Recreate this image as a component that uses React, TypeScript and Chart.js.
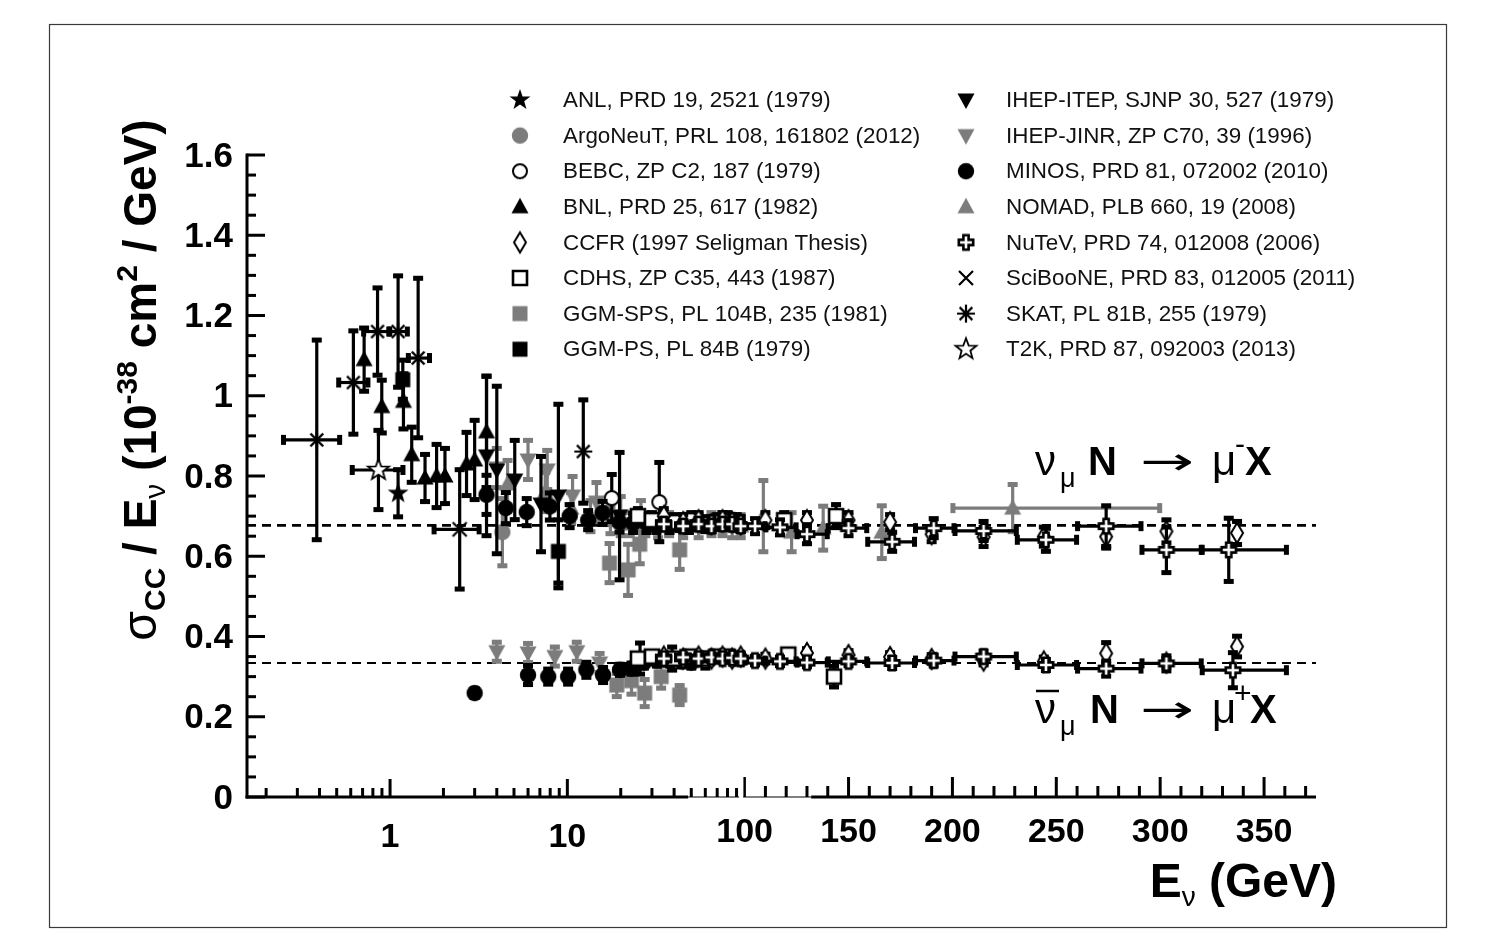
import React, { useEffect, useRef } from 'react';
import { Chart, Scale, registerables } from 'chart.js';

type Row = number[]; // [E (GeV), sigma/E, yErr, xLow?, xHigh?]

const X_MIN = 0.156;
const X_MAX = 375;
const X_BREAK = 100;
const LIN_DECADES_PER_GEV = 104 / 177.5 / 50;
const Y_MIN = 0;
const Y_MAX = 1.6;
const Y_TICKS = [0, 0.2, 0.4, 0.6, 0.8, 1, 1.2, 1.4, 1.6];
const Y_TICK_LABELS = ['0', '0.2', '0.4', '0.6', '0.8', '1', '1.2', '1.4', '1.6'];
const X_TICKS = [1, 10, 100, 150, 200, 250, 300, 350];
const X_TICK_LABELS = ['1', '10', '100', '150', '200', '250', '300', '350'];
const NU_MEAN = 0.677;
const NUBAR_MEAN = 0.334;

const ANL: Row[] = [[1.11, 0.757, 0.06]];
const ARGONEUT: Row[] = [[4.3, 0.66, 0.085]];
const BEBC: Row[] = [[17.8, 0.745, 0.06], [33, 0.735, 0.1], [39, 0.345, 0.03], [60, 0.34, 0.02]];
const BNL: Row[] = [
  [0.714, 1.09, 0.08], [0.898, 0.973, 0.067], [1.19, 0.986, 0.07], [1.325, 0.853, 0.07],
  [1.575, 0.795, 0.06], [1.83, 0.8, 0.08], [2.04, 0.8, 0.07], [2.7, 0.83, 0.08], [3.0, 0.84, 0.1], [3.5, 0.91, 0.14],
];
const CCFR: Row[] = [
  [35, 0.7, 0.02], [45, 0.685, 0.02], [55, 0.69, 0.02], [65, 0.68, 0.02], [75, 0.69, 0.02], [85, 0.685, 0.02], [95, 0.68, 0.02],
  [110, 0.69, 0.02], [130, 0.69, 0.02], [150, 0.69, 0.02], [170, 0.685, 0.02], [190, 0.655, 0.02], [215, 0.648, 0.025],
  [244, 0.649, 0.025], [274, 0.649, 0.03], [303, 0.662, 0.03], [337, 0.658, 0.03],
  [35, 0.35, 0.01], [45, 0.345, 0.01], [55, 0.35, 0.01], [65, 0.345, 0.01], [75, 0.35, 0.01], [85, 0.345, 0.01], [95, 0.35, 0.01],
  [110, 0.345, 0.012], [130, 0.359, 0.012], [150, 0.354, 0.012], [170, 0.349, 0.012], [190, 0.344, 0.012], [215, 0.34, 0.012],
  [244, 0.338, 0.012], [274, 0.358, 0.028], [303, 0.335, 0.012], [337, 0.375, 0.027],
];
const CDHS: Row[] = [
  [25, 0.7, 0.02], [30, 0.69, 0.02], [40, 0.685, 0.02], [50, 0.69, 0.02], [60, 0.68, 0.02], [70, 0.685, 0.02],
  [80, 0.69, 0.02], [90, 0.685, 0.02], [119, 0.69, 0.02], [144, 0.7, 0.03],
  [25, 0.345, 0.012], [30, 0.35, 0.012], [40, 0.345, 0.012], [50, 0.35, 0.012], [60, 0.345, 0.012], [70, 0.35, 0.012],
  [80, 0.35, 0.012], [90, 0.345, 0.012], [121, 0.355, 0.012], [143, 0.3, 0.027],
];
const GGM_SPS: Row[] = [
  [17.3, 0.583, 0.05], [22, 0.566, 0.065], [25.6, 0.63, 0.05], [43, 0.616, 0.05],
  [19, 0.279, 0.03], [23, 0.29, 0.035], [27.3, 0.259, 0.035], [33.8, 0.3, 0.03], [43, 0.254, 0.025],
];
const GGM_PS: Row[] = [[1.18, 1.04, 0.05], [8.9, 0.612, 0.08]];
const IHEP_ITEP: Row[] = [
  [3.5, 0.85, 0.2], [4.0, 0.815, 0.21], [5.05, 0.79, 0.1], [7.1, 0.73, 0.12], [8.9, 0.75, 0.23], [19.7, 0.7, 0.16],
  [25.7, 0.345, 0.04],
];
const IHEP_JINR: Row[] = [
  [4.0, 0.82, 0.05], [6.0, 0.84, 0.05], [7.7, 0.815, 0.05], [10.7, 0.75, 0.05], [14.6, 0.735, 0.05], [20, 0.7, 0.05], [26, 0.69, 0.05],
  [4.0, 0.362, 0.025], [6.0, 0.359, 0.025], [8.5, 0.35, 0.025], [11.3, 0.362, 0.025], [15.2, 0.334, 0.025],
];
const MINOS: Row[] = [
  [3.5, 0.753, 0.05], [4.5, 0.72, 0.04], [5.9, 0.71, 0.035], [7.97, 0.724, 0.035], [10.3, 0.7, 0.03], [13.1, 0.69, 0.025],
  [15.8, 0.708, 0.03], [19.7, 0.684, 0.025], [23.5, 0.683, 0.025], [27.9, 0.683, 0.025], [31.8, 0.678, 0.02],
  [37.7, 0.678, 0.02], [43, 0.683, 0.02], [48.5, 0.678, 0.02],
  [3.0, 0.259, 0.012], [6.0, 0.304, 0.025], [7.8, 0.3, 0.02], [10.1, 0.3, 0.02], [12.8, 0.317, 0.02], [15.9, 0.304, 0.02],
  [19.8, 0.317, 0.015], [23, 0.32, 0.015], [27, 0.335, 0.015], [32, 0.34, 0.015], [38, 0.34, 0.015], [44, 0.338, 0.015], [50, 0.335, 0.015],
];
const NOMAD: Row[] = [
  [4.6, 0.78, 0.06], [7.5, 0.76, 0.05], [10.5, 0.72, 0.04], [13.5, 0.7, 0.04], [17.5, 0.69, 0.035], [22.5, 0.68, 0.03],
  [27.5, 0.68, 0.03], [32.5, 0.675, 0.03], [37.5, 0.68, 0.03], [45, 0.675, 0.03], [55, 0.675, 0.03], [65, 0.68, 0.03],
  [75, 0.68, 0.03], [85, 0.675, 0.03], [95, 0.675, 0.03], [109, 0.7, 0.09], [122.6, 0.66, 0.05], [137.8, 0.67, 0.056],
  [166, 0.66, 0.067], [229, 0.72, 0.06, 200, 300],
];
const NUTEV: Row[] = [
  [35, 0.68, 0.015, 32, 38], [45, 0.675, 0.015, 41, 49], [55, 0.68, 0.015, 50, 60], [65, 0.675, 0.015, 60, 70],
  [75, 0.68, 0.015, 70, 80], [85, 0.68, 0.015, 80, 90], [95, 0.675, 0.015, 90, 100],
  [105, 0.675, 0.02, 100, 110], [117, 0.672, 0.02, 110, 125], [130, 0.655, 0.025, 125, 140], [150, 0.67, 0.02, 140, 159],
  [171, 0.636, 0.025, 159, 182], [191, 0.67, 0.025, 182, 201], [215, 0.663, 0.025, 201, 231], [245, 0.641, 0.03, 231, 260],
  [274, 0.675, 0.052, 260, 291], [303, 0.616, 0.058, 291, 320], [333, 0.616, 0.08, 320, 361],
  [35, 0.345, 0.01, 32, 38], [45, 0.348, 0.01, 41, 49], [55, 0.345, 0.01, 50, 60], [65, 0.348, 0.01, 60, 70],
  [75, 0.345, 0.01, 70, 80], [85, 0.347, 0.01, 80, 90], [95, 0.345, 0.01, 90, 100],
  [105, 0.34, 0.012, 100, 110], [117, 0.338, 0.012, 110, 125], [130, 0.335, 0.012, 125, 140], [150, 0.338, 0.012, 140, 159],
  [171, 0.334, 0.015, 159, 182], [191, 0.34, 0.015, 182, 201], [215, 0.35, 0.015, 201, 231], [245, 0.329, 0.015, 231, 260],
  [274, 0.32, 0.02, 260, 291], [303, 0.333, 0.02, 291, 320], [335, 0.316, 0.045, 320, 361],
];
const SCIBOONE: Row[] = [[2.47, 0.667, 0.15, 1.76, 3.2]];
const SKAT: Row[] = [
  [0.386, 0.89, 0.25, 0.249, 0.523], [0.621, 1.033, 0.13, 0.51, 0.755], [0.85, 1.16, 0.11, 0.705, 0.99],
  [1.11, 1.16, 0.14, 0.99, 1.26], [1.44, 1.094, 0.2, 1.26, 1.68], [12.3, 0.861, 0.13],
];
const T2K: Row[] = [[0.86, 0.815, 0.1, 0.608, 1.19]];

const BLACK = '#000000';
const GRAY = '#7c7c7c';
const F = '"Liberation Sans", Arial, Helvetica, sans-serif';

const SERIES = [
  { label: 'ANL, PRD 19, 2521 (1979)', rows: ANL, marker: 'starFilled', gray: false, order: 4 },
  { label: 'ArgoNeuT, PRL 108, 161802 (2012)', rows: ARGONEUT, marker: 'circle', gray: true, order: 9 },
  { label: 'BEBC, ZP C2, 187 (1979)', rows: BEBC, marker: 'circleOpen', gray: false, order: 4 },
  { label: 'BNL, PRD 25, 617 (1982)', rows: BNL, marker: 'triUp', gray: false, order: 6 },
  { label: 'CCFR (1997 Seligman Thesis)', rows: CCFR, marker: 'diamondOpen', gray: false, order: 1 },
  { label: 'CDHS, ZP C35, 443 (1987)', rows: CDHS, marker: 'squareOpen', gray: false, order: 2 },
  { label: 'GGM-SPS, PL 104B, 235 (1981)', rows: GGM_SPS, marker: 'square', gray: true, order: 9 },
  { label: 'GGM-PS, PL 84B (1979)', rows: GGM_PS, marker: 'square', gray: false, order: 7 },
  { label: 'IHEP-ITEP, SJNP 30, 527 (1979)', rows: IHEP_ITEP, marker: 'triDown', gray: false, order: 7 },
  { label: 'IHEP-JINR, ZP C70, 39 (1996)', rows: IHEP_JINR, marker: 'triDown', gray: true, order: 8 },
  { label: 'MINOS, PRD 81, 072002 (2010)', rows: MINOS, marker: 'circle', gray: false, order: 3 },
  { label: 'NOMAD, PLB 660, 19 (2008)', rows: NOMAD, marker: 'triUp', gray: true, order: 8 },
  { label: 'NuTeV, PRD 74, 012008 (2006)', rows: NUTEV, marker: 'crossOpen', gray: false, order: 0 },
  { label: 'SciBooNE, PRD 83, 012005 (2011)', rows: SCIBOONE, marker: 'x', gray: false, order: 5 },
  { label: 'SKAT, PL 81B, 255 (1979)', rows: SKAT, marker: 'asterisk', gray: false, order: 5 },
  { label: 'T2K, PRD 87, 092003 (2013)', rows: T2K, marker: 'starOpen', gray: false, order: 4 },
];

class HybridScale extends Scale {
  static id = 'hybrid';
  static defaults = {};
  determineDataLimits() {
    const o: any = (this as any).options;
    (this as any).min = o.min;
    (this as any).max = o.max;
  }
  buildTicks() {
    return X_TICKS.map((v) => ({ value: v }));
  }
  getLabelForValue(v: number) {
    return String(v);
  }
  tf(v: number) {
    return v <= X_BREAK ? Math.log10(v) : Math.log10(X_BREAK) + (v - X_BREAK) * LIN_DECADES_PER_GEV;
  }
  itf(t: number) {
    const tb = Math.log10(X_BREAK);
    return t <= tb ? Math.pow(10, t) : X_BREAK + (t - tb) / LIN_DECADES_PER_GEV;
  }
  getPixelForValue(v: number) {
    const self: any = this;
    const a = this.tf(self.min);
    const b = this.tf(self.max);
    return self.getPixelForDecimal((this.tf(v) - a) / (b - a));
  }
  getValueForPixel(p: number) {
    const self: any = this;
    const a = this.tf(self.min);
    const b = this.tf(self.max);
    return this.itf(a + self.getDecimalForPixel(p) * (b - a));
  }
}

Chart.register(...registerables, HybridScale as any);

function makeMarker(kind: string, color: string): HTMLCanvasElement {
  const S = 28;
  const m = S / 2;
  const c = document.createElement('canvas');
  c.width = S;
  c.height = S;
  const g = c.getContext('2d')!;
  g.fillStyle = color;
  g.strokeStyle = color;
  g.lineJoin = 'miter';
  const poly = (pts: number[][]) => {
    g.beginPath();
    pts.forEach(([x, y], i) => (i ? g.lineTo(m + x, m + y) : g.moveTo(m + x, m + y)));
    g.closePath();
  };
  const star = (ro: number, ri: number) => {
    const pts: number[][] = [];
    for (let i = 0; i < 10; i++) {
      const r = i % 2 ? ri : ro;
      const a = -Math.PI / 2 + (i * Math.PI) / 5;
      pts.push([r * Math.cos(a), r * Math.sin(a)]);
    }
    poly(pts);
  };
  switch (kind) {
    case 'starFilled':
      star(11, 4.4);
      g.fill();
      break;
    case 'starOpen':
      star(11, 4.6);
      g.fillStyle = '#fff';
      g.fill();
      g.lineWidth = 1.8;
      g.stroke();
      break;
    case 'circle':
      g.beginPath();
      g.arc(m, m, 8.2, 0, Math.PI * 2);
      g.fill();
      break;
    case 'circleOpen':
      g.beginPath();
      g.arc(m, m, 7, 0, Math.PI * 2);
      g.fillStyle = '#fff';
      g.fill();
      g.lineWidth = 2;
      g.stroke();
      break;
    case 'triUp':
      poly([[0, -9], [8.5, 6.5], [-8.5, 6.5]]);
      g.fill();
      break;
    case 'triDown':
      poly([[0, 9], [8.5, -6.5], [-8.5, -6.5]]);
      g.fill();
      break;
    case 'diamondOpen':
      poly([[0, -10], [6, 0], [0, 10], [-6, 0]]);
      g.fillStyle = '#fff';
      g.fill();
      g.lineWidth = 2;
      g.stroke();
      break;
    case 'squareOpen':
      poly([[-7, -7], [7, -7], [7, 7], [-7, 7]]);
      g.fillStyle = '#fff';
      g.fill();
      g.lineWidth = 2.6;
      g.stroke();
      break;
    case 'square':
      g.fillRect(m - 7.5, m - 7.5, 15, 15);
      break;
    case 'crossOpen': {
      const a = 2.6;
      const b = 7.2;
      poly([[-a, -b], [a, -b], [a, -a], [b, -a], [b, a], [a, a], [a, b], [-a, b], [-a, a], [-b, a], [-b, -a], [-a, -a]]);
      g.fillStyle = '#fff';
      g.fill();
      g.lineWidth = 2.6;
      g.stroke();
      break;
    }
    case 'x':
      g.lineWidth = 2.2;
      g.beginPath();
      g.moveTo(m - 7, m - 7);
      g.lineTo(m + 7, m + 7);
      g.moveTo(m + 7, m - 7);
      g.lineTo(m - 7, m + 7);
      g.stroke();
      break;
    case 'asterisk':
      g.lineWidth = 2.2;
      g.beginPath();
      for (let i = 0; i < 4; i++) {
        const a = (i * Math.PI) / 4;
        g.moveTo(m + 9 * Math.cos(a), m + 9 * Math.sin(a));
        g.lineTo(m - 9 * Math.cos(a), m - 9 * Math.sin(a));
      }
      g.stroke();
      break;
  }
  return c;
}

const errorBarPlugin = {
  id: 'errorBars',
  beforeDatasetDraw(chart: any, args: any) {
    const ds = chart.data.datasets[args.index];
    if (!ds.rows) return;
    const xs = chart.scales.x;
    const ys = chart.scales.y;
    const ctx: CanvasRenderingContext2D = chart.ctx;
    ctx.save();
    ctx.strokeStyle = ds.errColor;
    ctx.fillStyle = ds.errColor;
    ctx.lineWidth = 3.2;
    ctx.lineCap = 'butt';
    for (const r of ds.rows as Row[]) {
      const px = xs.getPixelForValue(r[0]);
      const py = ys.getPixelForValue(r[1]);
      if (r[2]) {
        const y1 = ys.getPixelForValue(r[1] + r[2]);
        const y2 = ys.getPixelForValue(r[1] - r[2]);
        ctx.beginPath();
        ctx.moveTo(px, y1);
        ctx.lineTo(px, y2);
        ctx.stroke();
        ctx.fillRect(px - 5, y1 - 2, 10, 5);
        ctx.fillRect(px - 5, y2 - 3, 10, 5);
      }
      if (r.length > 4) {
        const x1 = xs.getPixelForValue(r[3]);
        const x2 = xs.getPixelForValue(r[4]);
        ctx.beginPath();
        ctx.moveTo(x1, py);
        ctx.lineTo(x2, py);
        ctx.stroke();
        ctx.fillRect(x1 - 2, py - 5, 5, 10);
        ctx.fillRect(x2 - 3, py - 5, 5, 10);
      }
    }
    ctx.restore();
  },
};

type Piece = [string, string, number];

function piecesWidth(ctx: CanvasRenderingContext2D, parts: Piece[]) {
  let w = 0;
  for (const [t, font] of parts) {
    ctx.font = font;
    w += ctx.measureText(t).width;
  }
  return w;
}

function drawPieces(ctx: CanvasRenderingContext2D, parts: Piece[], x: number, y: number) {
  let cx = x;
  for (const [t, font, dy] of parts) {
    ctx.font = font;
    ctx.fillText(t, cx, y + dy);
    cx += ctx.measureText(t).width;
  }
}

function txt(ctx: CanvasRenderingContext2D, t: string, font: string, x: number, y: number) {
  ctx.font = font;
  ctx.fillText(t, x, y);
  return ctx.measureText(t).width;
}

const decoPlugin = {
  id: 'deco',
  beforeDraw(chart: any) {
    const ctx: CanvasRenderingContext2D = chart.ctx;
    ctx.save();
    ctx.fillStyle = '#fff';
    ctx.fillRect(0, 0, chart.width, chart.height);
    ctx.strokeStyle = '#3a3a3a';
    ctx.lineWidth = 1.2;
    ctx.strokeRect(49.5, 24.5, 1397, 903);
    ctx.restore();
  },
  afterDatasetsDraw(chart: any) {
    const ctx: CanvasRenderingContext2D = chart.ctx;
    const xs = chart.scales.x;
    const ys = chart.scales.y;
    const y0 = ys.getPixelForValue(Y_MIN);
    const yTop = ys.getPixelForValue(Y_MAX);
    const xl = xs.getPixelForValue(X_MIN);
    ctx.save();
    ctx.strokeStyle = '#000';
    ctx.fillStyle = '#000';
    ctx.lineCap = 'butt';
    const line = (x1: number, y1: number, x2: number, y2: number, w: number) => {
      ctx.lineWidth = w;
      ctx.beginPath();
      ctx.moveTo(x1, y1);
      ctx.lineTo(x2, y2);
      ctx.stroke();
    };
    // y axis
    line(xl, y0 + 1.5, xl, yTop - 1.5, 3);
    for (let k = 0; k <= 32; k++) {
      const p = ys.getPixelForValue(k * 0.05);
      line(xl, p, xl + (k % 4 === 0 ? 18 : 9), p, 3);
    }
    // x axis segments
    const X = (v: number) => xs.getPixelForValue(v);
    line(xl - 1.5, y0, X(48), y0, 3);
    line(X(48), y0, X(93), y0, 1.2);
    line(X(98), y0, X(132), y0, 1.2);
    line(X(132), y0, X(X_MAX), y0, 3);
    // log ticks
    for (const d of [0.1, 1, 10]) {
      for (let k = 1; k <= 9; k++) {
        const v = k * d;
        if (v < X_MIN || v >= 100) continue;
        const major = k === 1;
        line(X(v), y0, X(v), y0 - (major ? 18 : 9), 3);
      }
    }
    line(X(100), y0, X(100), y0 - 20, 2.5);
    for (let v = 110; v <= 370; v += 10) {
      line(X(v), y0, X(v), y0 - (v % 50 === 0 ? 20 : 11), 3);
    }
    // tick labels
    ctx.textAlign = 'right';
    ctx.textBaseline = 'middle';
    ctx.font = `bold 35px ${F}`;
    Y_TICKS.forEach((v, i) => ctx.fillText(Y_TICK_LABELS[i], 233, ys.getPixelForValue(v) + 2));
    ctx.font = `bold 34px ${F}`;
    ctx.textAlign = 'center';
    X_TICKS.forEach((v, i) => ctx.fillText(X_TICK_LABELS[i], X(v), v < 100 ? 838 : 833));
    // x title
    ctx.textAlign = 'left';
    ctx.textBaseline = 'alphabetic';
    const xt: Piece[] = [['E', `bold 48px ${F}`, 0], ['\u03bd', `28px ${F}`, 9], [' (GeV)', `bold 48px ${F}`, 0]];
    const xw = piecesWidth(ctx, xt);
    drawPieces(ctx, xt, 1337 - xw, 897);
    // y title
    const yt: Piece[] = [
      ['\u03c3', `48px ${F}`, 0],
      ['CC', `bold 30px ${F}`, 9],
      [' / E', `bold 46px ${F}`, 0],
      ['\u03bd', `30px ${F}`, 9],
      [' (10', `bold 46px ${F}`, 0],
      ['-38', `bold 30px ${F}`, -19],
      [' cm', `bold 46px ${F}`, 0],
      ['2', `bold 30px ${F}`, -19],
      [' / GeV)', `bold 46px ${F}`, 0],
    ];
    const yw = piecesWidth(ctx, yt);
    ctx.save();
    ctx.translate(156, 380);
    ctx.rotate(-Math.PI / 2);
    drawPieces(ctx, yt, -yw / 2, 0);
    ctx.restore();
    // annotations
    const arrow = (x: number, y: number) => {
      ctx.save();
      ctx.translate(x, y);
      ctx.scale(1.7, 1);
      ctx.font = `38px "DejaVu Sans", sans-serif`;
      ctx.fillText('\u2192', 0, 0);
      ctx.restore();
    };
    // upper: nu_mu N -> mu- X
    txt(ctx, '\u03bd', `42px ${F}`, 1035, 475);
    txt(ctx, '\u03bc', `27px ${F}`, 1060, 487);
    txt(ctx, 'N', `bold 40px ${F}`, 1088, 475);
    arrow(1140, 474);
    txt(ctx, '\u03bc', `42px ${F}`, 1212, 475);
    txt(ctx, '-', `30px ${F}`, 1235, 454);
    txt(ctx, 'X', `bold 40px ${F}`, 1245, 475);
    // lower: anti-nu_mu N -> mu+ X
    txt(ctx, '\u03bd', `42px ${F}`, 1035, 723);
    line(1036, 691, 1059, 691, 2.5);
    txt(ctx, '\u03bc', `27px ${F}`, 1060, 735);
    txt(ctx, 'N', `bold 40px ${F}`, 1090, 723);
    arrow(1140, 722);
    txt(ctx, '\u03bc', `42px ${F}`, 1212, 723);
    txt(ctx, '+', `30px ${F}`, 1234, 703);
    txt(ctx, 'X', `bold 40px ${F}`, 1250, 723);
    ctx.restore();
  },
  afterDraw(chart: any) {
    const ctx: CanvasRenderingContext2D = chart.ctx;
    ctx.save();
    ctx.font = `22.4px ${F}`;
    ctx.fillStyle = '#111';
    ctx.textAlign = 'left';
    ctx.textBaseline = 'middle';
    chart.data.datasets.forEach((ds: any, i: number) => {
      if (!ds.rows) return;
      const col = i < 8 ? 0 : 1;
      const row = i % 8;
      const y = 100 + row * 35.6;
      const mx = col ? 966 : 520;
      const tx = col ? 1006 : 563;
      const img: HTMLCanvasElement = ds.marker;
      ctx.drawImage(img, mx - img.width / 2, y - img.height / 2);
      ctx.fillText(ds.label, tx, y + 1);
    });
    ctx.restore();
  },
};

export default function App() {
  const ref = useRef<HTMLCanvasElement>(null);
  useEffect(() => {
    const canvas = ref.current!;
    const datasets: any[] = SERIES.map((s) => {
      const color = s.gray ? GRAY : BLACK;
      const marker = makeMarker(s.marker, color);
      return {
        type: 'scatter',
        label: s.label,
        rows: s.rows,
        marker,
        errColor: color,
        data: s.rows.map((r) => ({ x: r[0], y: r[1] })),
        pointStyle: marker,
        pointRadius: 9,
        pointHoverRadius: 9,
        backgroundColor: color,
        borderColor: color,
        order: s.order,
      };
    });
    for (const v of [NU_MEAN, NUBAR_MEAN]) {
      datasets.push({
        type: 'line',
        label: '',
        data: [{ x: X_MIN, y: v }, { x: X_MAX, y: v }],
        borderColor: '#000',
        borderWidth: v === NU_MEAN ? 2.6 : 2,
        borderDash: [9, 6],
        pointRadius: 0,
        fill: false,
        order: 50,
      });
    }
    const chart = new Chart(canvas, {
      type: 'scatter',
      data: { datasets },
      options: {
        responsive: false,
        animation: false,
        devicePixelRatio: 1,
        events: [],
        layout: { padding: { left: 247, right: 172, top: 155, bottom: 149 } },
        scales: {
          x: { type: 'hybrid', min: X_MIN, max: X_MAX, display: false } as any,
          y: { type: 'linear', min: Y_MIN, max: Y_MAX, display: false },
        },
        plugins: { legend: { display: false }, tooltip: { enabled: false } },
      },
      plugins: [errorBarPlugin, decoPlugin],
    } as any);
    return () => chart.destroy();
  }, []);
  return (
    <div style={{ position: 'absolute', left: 0, top: 0, width: 1488, height: 946, background: '#fff' }}>
      <canvas ref={ref} width={1488} height={946} style={{ display: 'block', width: 1488, height: 946 }} />
    </div>
  );
}
